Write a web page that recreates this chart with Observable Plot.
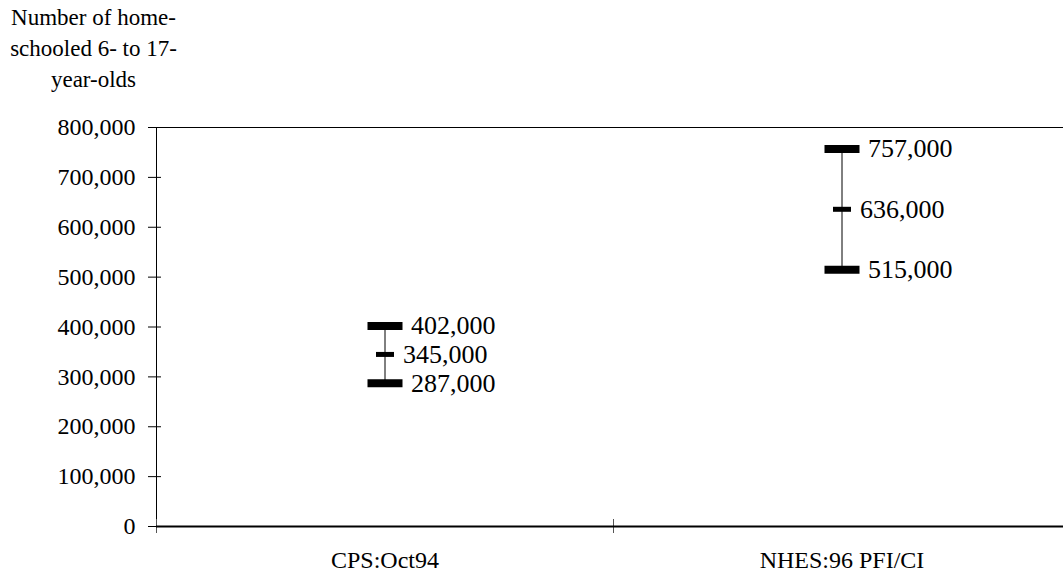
<!DOCTYPE html>
<html>
<head>
<meta charset="utf-8">
<script src="https://cdn.jsdelivr.net/npm/d3@7"></script>
<script src="https://cdn.jsdelivr.net/npm/@observablehq/plot@0.6"></script>
<style>
  html, body { margin: 0; padding: 0; background: white; }
  #chart svg { display: block; font-family: "Liberation Serif", "Times New Roman", serif !important; }
  #chart svg text { font-family: "Liberation Serif", "Times New Roman", serif !important; }
</style>
</head>
<body>
<div id="chart"></div>
<script>
const categories = ["CPS:Oct94", "NHES:96 PFI/CI"];
const lower = [287000, 515000];
const estimate = [345000, 636000];
const upper = [402000, 757000];
const yTicks = [0, 100000, 200000, 300000, 400000, 500000, 600000, 700000, 800000];
const titleLines = ["Number of home-", "schooled 6- to 17-", "year-olds"];

const serif = "Liberation Serif";
const fmt = d3.format(",");
const rows = categories.map((c, i) => ({cat: c, pos: i + 0.5, lo: lower[i], est: estimate[i], hi: upper[i]}));
const ends = rows.flatMap(r => [{pos: r.pos, v: r.lo}, {pos: r.pos, v: r.hi}]);
const mids = rows.map(r => ({pos: r.pos, v: r.est}));

const bigBar = {draw(ctx) { ctx.rect(-17.5, -4, 35, 8); }};
const smallBar = {draw(ctx) { ctx.rect(-9, -2.5, 18, 5); }};

const chart = Plot.plot({
  width: 1063,
  height: 573,
  marginTop: 127,
  marginBottom: 47,
  marginLeft: 156,
  marginRight: -7,
  x: {domain: [0, categories.length], axis: null},
  y: {domain: [0, 800000], axis: null},
  style: {fontFamily: serif, fontSize: "24px", background: "white", color: "black", overflow: "hidden"},
  marks: [
    Plot.frame({stroke: "black", strokeWidth: 1}),
    Plot.axisY({ticks: yTicks, tickFormat: fmt, tickSize: 13, dx: 5, tickPadding: 13, fontSize: 24, fontFamily: serif, label: null}),
    Plot.axisX({ticks: d3.range(categories.length + 1), tickFormat: () => "", tickSize: 14, dy: -7, stroke: "#555", label: null}),
    Plot.axisX({ticks: rows.map(r => r.pos), tickFormat: (d, i) => categories[i], tickSize: 0, tickPadding: 24, fontSize: 24, fontFamily: serif, label: null}),
    Plot.ruleY([0], {stroke: "black", strokeWidth: 2}),
    Plot.ruleX(rows, {x: "pos", y1: "lo", y2: "hi", stroke: "black", strokeWidth: 1}),
    Plot.dot(ends, {x: "pos", y: "v", symbol: bigBar, fill: "black", stroke: "none"}),
    Plot.dot(mids, {x: "pos", y: "v", symbol: smallBar, fill: "black", stroke: "none"}),
    Plot.text(ends, {x: "pos", y: "v", text: d => fmt(d.v), dx: 26, textAnchor: "start", fontSize: 26, fontFamily: serif}),
    Plot.text(mids, {x: "pos", y: "v", text: d => fmt(d.v), dx: 18, textAnchor: "start", fontSize: 26, fontFamily: serif}),
    Plot.text([titleLines.join("\n")], {frameAnchor: "top-left", dx: -63, dy: -81, textAnchor: "middle", lineAnchor: "middle", lineHeight: 1.35, fontSize: 23, fontFamily: serif})
  ]
});
document.getElementById("chart").appendChild(chart);
</script>
</body>
</html>
